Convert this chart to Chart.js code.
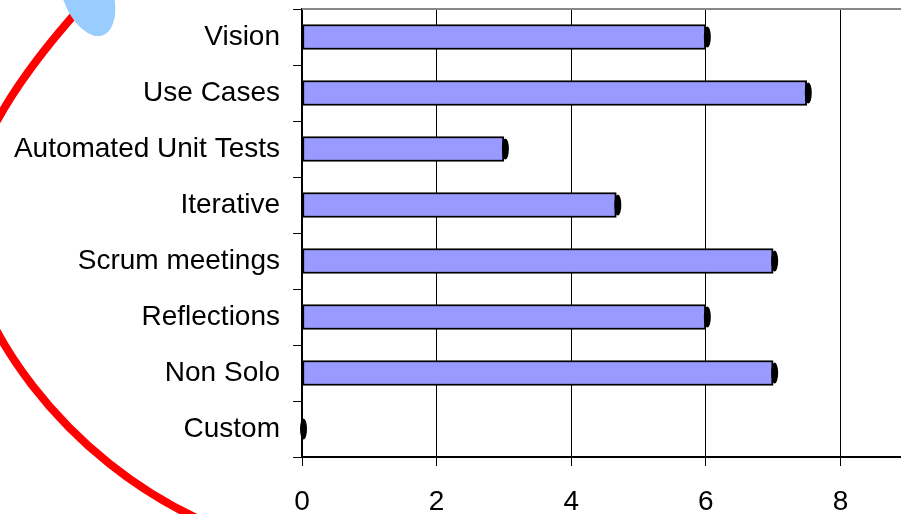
<!DOCTYPE html>
<html>
<head>
<meta charset="utf-8">
<script src="https://cdn.jsdelivr.net/npm/chart.js@4/dist/chart.umd.min.js"></script>
<style>
  html, body { margin: 0; padding: 0; background: #fff; }
  #wrap { width: 901px; height: 514px; position: relative; }
</style>
</head>
<body>
<div id="wrap"><canvas id="c" width="901" height="514"></canvas></div>
<script>
const categories = ["Vision", "Use Cases", "Automated Unit Tests", "Iterative", "Scrum meetings", "Reflections", "Non Solo", "Custom"];
const values = [6, 7.5, 3, 4.67, 7, 6, 7, 0];
const xTicks = [0, 2, 4, 6, 8];

const decorPlugin = {
  id: 'decor',
  afterDraw(chart) {
    const ctx = chart.ctx;
    const a = chart.chartArea;
    ctx.save();
    // top grey border line
    ctx.strokeStyle = '#888888';
    ctx.lineWidth = 2;
    ctx.beginPath();
    ctx.moveTo(a.left, a.top);
    ctx.lineTo(a.right, a.top);
    ctx.stroke();
    // end caps on bars
    const meta = chart.getDatasetMeta(0);
    ctx.fillStyle = '#000';
    meta.data.forEach((bar) => {
      const h = bar.height;
      ctx.beginPath();
      ctx.ellipse(bar.x + 1.5, bar.y, 3.5, h / 2 - 2, 0, 0, Math.PI * 2);
      ctx.fill();
    });
    // red hand-drawn arc (decoration)
    ctx.strokeStyle = '#ff0000';
    ctx.lineWidth = 8;
    ctx.lineCap = 'round';
    ctx.beginPath();
    ctx.moveTo(82, 6);
    ctx.bezierCurveTo(35, 58, -35, 146, -35, 226);
    ctx.bezierCurveTo(-35, 316, 63, 462, 210, 524);
    ctx.stroke();
    // light blue blob
    ctx.fillStyle = '#99ccff';
    ctx.beginPath();
    ctx.ellipse(87, -8, 25, 46, -0.35, 0, Math.PI * 2);
    ctx.fill();
    ctx.restore();
  }
};

new Chart(document.getElementById('c'), {
  type: 'bar',
  data: {
    labels: categories,
    datasets: [{
      data: values,
      backgroundColor: '#9999ff',
      borderColor: '#000000',
      borderWidth: 2,
      borderSkipped: false,
      barThickness: 25
    }]
  },
  options: {
    indexAxis: 'y',
    responsive: false,
    animation: false,
    layout: { padding: { top: 9, right: 0, left: 0, bottom: 0 } },
    plugins: { legend: { display: false }, tooltip: { enabled: false } },
    scales: {
      x: {
        type: 'linear',
        min: 0,
        max: 8.9,
        afterFit(scale) { scale.height = 57; scale.paddingLeft = 0; scale.paddingRight = 0; },
        afterBuildTicks(scale) { scale.ticks = xTicks.map(v => ({ value: v })); },
        ticks: {
          stepSize: 2,
          includeBounds: false,
          color: '#000',
          font: { family: 'Liberation Sans, Arial, sans-serif', size: 28 },
          padding: 19,
          maxRotation: 0
        },
        grid: { color: '#000', lineWidth: 1, tickLength: 9, drawTicks: true },
        border: { color: '#000', width: 2 }
      },
      y: {
        afterFit(scale) { scale.width = 302; scale.paddingTop = 0; scale.paddingBottom = 0; },
        ticks: {
          color: '#000',
          font: { family: 'Liberation Sans, Arial, sans-serif', size: 28 },
          padding: 13,
          autoSkip: false
        },
        grid: { color: '#000', lineWidth: 1, tickLength: 9, drawOnChartArea: false, offset: true },
        border: { color: '#000', width: 2 }
      }
    }
  },
  plugins: [decorPlugin]
});
</script>
</body>
</html>
